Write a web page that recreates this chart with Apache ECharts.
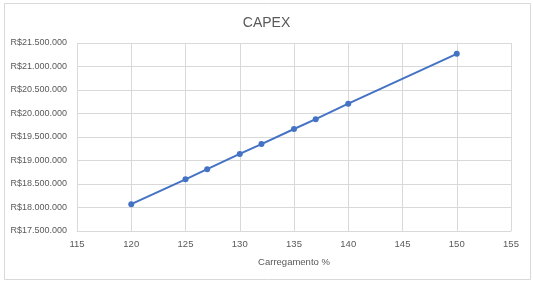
<!DOCTYPE html>
<html><head><meta charset="utf-8">
<script src="https://cdn.jsdelivr.net/npm/echarts@6/dist/echarts.min.js"></script>
<style>html,body{margin:0;padding:0;background:#fff}#c{width:533px;height:282px}</style>
</head><body><div id="c"></div>
<script>
const title = 'CAPEX';
const xName = 'Carregamento %';
const xValues = [120, 125, 127, 130, 132, 135, 137, 140, 150];
const capex = [18070000, 18600000, 18815000, 19140000, 19350000, 19670000, 19880000, 20210000, 21270000];
const yMin = 17500000, yMax = 21500000, yStep = 500000;
const xMin = 115, xMax = 155, xStep = 5;

function fmt(v){
  return 'R$' + String(Math.round(v)).replace(/\B(?=(\d{3})+(?!\d))/g, '.');
}
const chart = echarts.init(document.getElementById('c'), null, {renderer:'canvas'});
chart.setOption({
  animation:false,
  backgroundColor:'#fff',
  textStyle:{fontFamily:'Liberation Sans'},
  title:{text:title,left:'center',top:11,textStyle:{fontSize:14,fontWeight:'normal',color:'#595959',fontFamily:'Liberation Sans'}},
  graphic:[{type:'rect',shape:{x:4.5,y:3.5,width:526,height:276},style:{fill:'none',stroke:'#d9d9d9',lineWidth:1},silent:true}],
  grid:{left:77,right:22,top:43,bottom:51},
  xAxis:{type:'value',min:xMin,max:xMax,interval:xStep,
    name:xName,nameLocation:'middle',nameGap:26,nameTextStyle:{fontSize:9.5,color:'#595959'},
    axisLine:{show:true,lineStyle:{color:'#d9d9d9'}},axisTick:{show:false},
    axisLabel:{fontSize:9.5,color:'#595959',margin:8},
    splitLine:{show:true,lineStyle:{color:'#d9d9d9'}}},
  yAxis:{type:'value',min:yMin,max:yMax,interval:yStep,
    axisLine:{show:false},axisTick:{show:false},
    axisLabel:{fontSize:9,color:'#595959',margin:10,formatter:fmt},
    splitLine:{show:true,lineStyle:{color:'#d9d9d9'}}},
  series:[{type:'line',data:xValues.map((x,i)=>[x,capex[i]]),
    symbol:'circle',symbolSize:6,
    lineStyle:{color:'#4472C4',width:2},itemStyle:{color:'#4472C4'}}]
});
</script></body></html>
